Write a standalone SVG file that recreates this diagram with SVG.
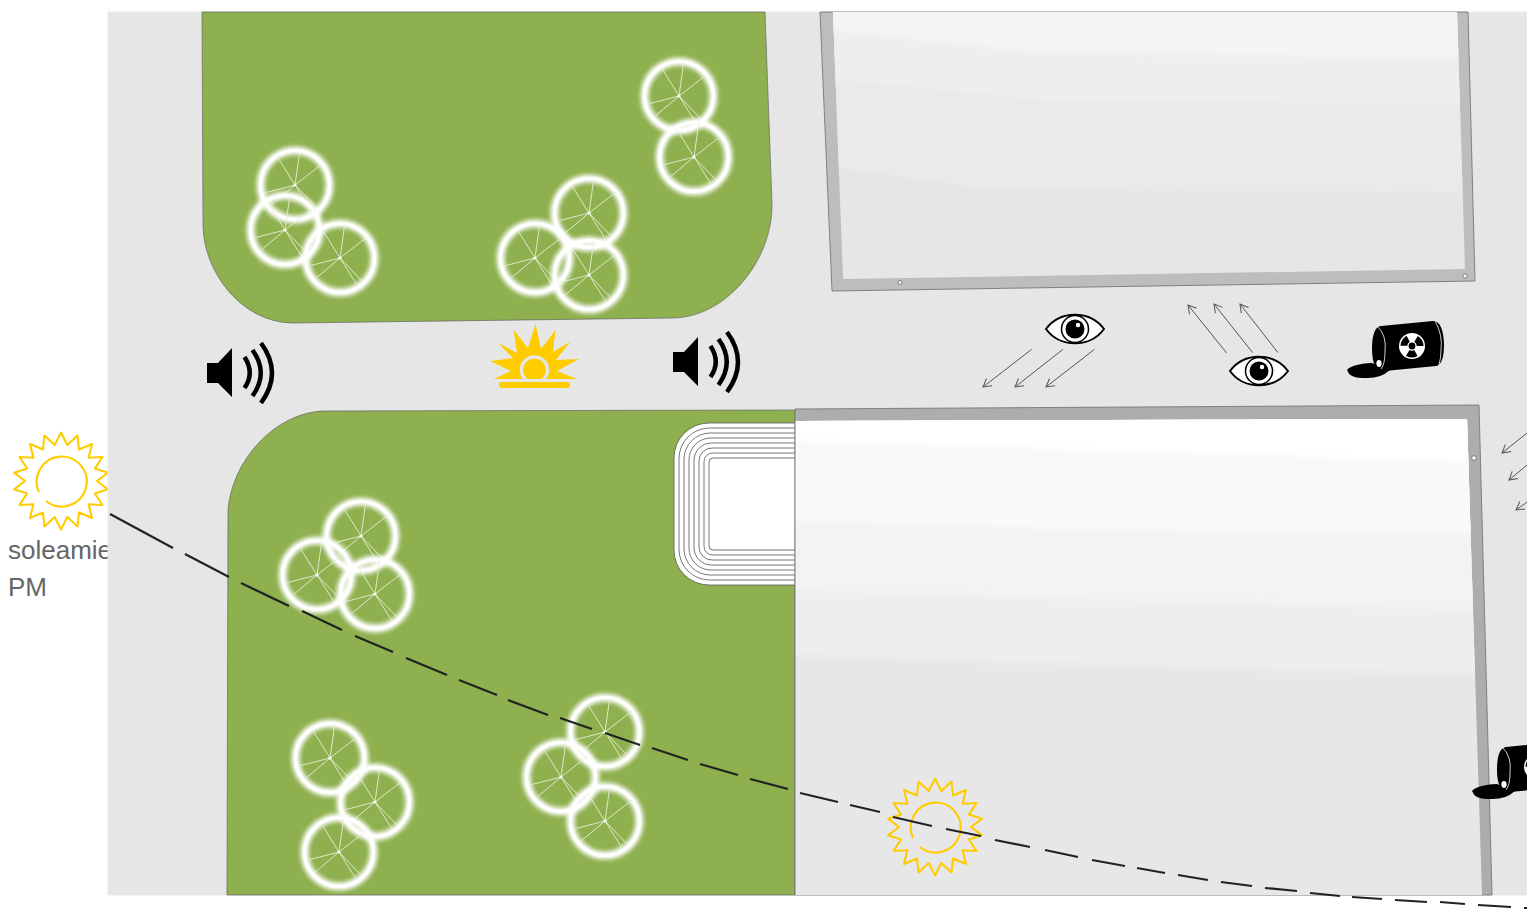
<svg xmlns="http://www.w3.org/2000/svg" xmlns:xlink="http://www.w3.org/1999/xlink" width="1527" height="909" viewBox="0 0 1527 909">
<style>
.lbl{font-family:"Liberation Sans",Arial,sans-serif;font-size:26px;fill:#666}
.green{fill:#8eb04e;stroke:#666;stroke-width:.7}
.frame{stroke:#777;stroke-width:.9}
.dot{fill:#fff;stroke:#777;stroke-width:1}
.spoke{stroke:#e6eed6;stroke-width:.9;fill:none}
.rim{fill:none;stroke:#fff;stroke-width:3}
.glow{fill:none;stroke:#fff;stroke-width:8;filter:url(#blur)}
.ray{fill:none;stroke:#ffcc00;stroke-width:2.100;stroke-linejoin:round}
.trk{fill:#fff;stroke:#666;stroke-width:.9}
.arrow{fill:none;stroke:#555;stroke-width:1;marker-end:url(#head)}
.dash{fill:none;stroke:#222;stroke-width:2.200}
.wave{fill:none;stroke:#000;stroke-width:4.500}
.soft{filter:url(#soft)}
</style>
<defs>
<filter id="blur" x="-30%" y="-30%" width="160%" height="160%"><feGaussianBlur stdDeviation="2.300"/></filter>
<filter id="soft" x="-5%" y="-5%" width="110%" height="110%"><feGaussianBlur stdDeviation="2.500"/></filter>
<clipPath id="clipN"><path d="M833,12L843,279L1465,269L1457,12Z"/></clipPath>
<clipPath id="clipS"><path d="M795,421L1467,419L1482,895H795Z"/></clipPath>
<marker id="head" markerUnits="userSpaceOnUse" markerWidth="12" markerHeight="12" viewBox="-10 -6 12 12" refX="0" refY="0" orient="auto"><path d="M-8,-4.600L0,0L-8,4.600" fill="none" stroke="#555" stroke-width="1"/></marker>
<g id="tree">
<circle class="glow" r="34.500"/>
<circle class="rim" r="34.500"/>
<path class="spoke" d="M0,0L-17.500,-28M0,0L4.800,-34M0,0L27,-21M0,0L-31,8M0,0L-25,21M0,0L17,27M0,0L22,23"/>
<circle r="1.600" fill="#fff"/>
</g>
<g id="sun">
<path class="ray" d="M0,-48.500L6.300,-36L16.500,-45.500L18,-31.500L31,-37L27.600,-23.300L41.500,-24L33.800,-12.400L47,-8.300L36,0L47,8.300L33.800,12.400L41.500,24L27.600,23.300L31,37L18,31.500L16.500,45.500L6.300,36L0,48.500L-6.300,36L-16.500,45.500L-18,31.500L-31,37L-27.600,23.300L-41.500,24L-33.800,12.400L-47,8.300L-36,0L-47,-8.300L-33.800,-12.400L-41.500,-24L-27.600,-23.300L-31,-37L-18,-31.500L-16.500,-45.500L-6.300,-36Z"/>
<path class="ray" d="M-15,20A25,25 0 1 0 -22,11"/>
</g>
<g id="eye">
<path d="M-29,0C-15,-19 15,-19 29,0C15,19 -15,19 -29,0Z" fill="#fff" stroke="#000" stroke-width="2"/>
<circle r="13.500" fill="#fff" stroke="#000" stroke-width="1.500"/>
<circle r="9.500" fill="#000"/>
<circle cx="3" cy="-4" r="2.200" fill="#fff"/>
</g>
<g id="speaker">
<path d="M207,363H218L232,348V397L218,383H207Z" fill="#000"/>
<path class="wave" d="M244.500,357Q255,373 244.500,388"/>
<path class="wave" d="M252.500,350Q269,373 252.500,396"/>
<path class="wave" d="M261,343Q283,373 261,403"/>
</g>
<g id="barrel">
<path d="M1381,326L1433,321Q1443,321 1444,344Q1444,365 1436,366L1385,371Q1372,372 1372,349Q1372,327 1381,326Z" fill="#000"/>
<path d="M1347,370Q1352,364 1372,363L1390,370Q1380,379 1365,378Q1350,379 1347,370Z" fill="#000"/>
<path d="M1377,326Q1387,335 1385,352Q1385,364 1381,369" fill="none" stroke="#fff" stroke-width=".8"/>
<path d="M1435,321Q1443,335 1441,350Q1441,358 1439,365" fill="none" stroke="#fff" stroke-width=".8"/>
<ellipse cx="1379" cy="363.500" rx="2.600" ry="3.400" fill="#fff"/>
<circle cx="1412" cy="346" r="13" fill="#fff"/>
<circle cx="1412" cy="346" r="8" fill="none" stroke="#000" stroke-width="7" stroke-dasharray="8.380 8.380" transform="rotate(-60 1412 346)"/>
<circle cx="1412" cy="346" r="4.500" fill="#fff"/>
<circle cx="1412" cy="346" r="3.400" fill="#000"/>
</g>
</defs>

<g id="label-sun">
<use href="#sun" x="61" y="481"/>
<text class="lbl" x="8" y="559">soleamie</text>
<text class="lbl" x="8" y="596">PM</text>
</g>

<g id="ground"><rect x="108" y="12" width="1419" height="883" fill="#e6e6e6" stroke="#e9e9e9" stroke-width="1"/></g>

<g id="park-north"><path class="green" d="M202,12H765L772,205C772,262 725,318 672,318L292,323C240,322 203,270 203,225Z"/></g>
<g id="park-south"><path class="green" d="M323,411L795,410V895H227L228,510C232,460 275,413 323,411Z"/></g>

<g id="track">
<rect class="trk" x="674" y="423" width="160" height="162" rx="35"/>
<rect class="trk" x="679" y="428" width="160" height="152" rx="30.600"/>
<rect class="trk" x="684" y="433" width="160" height="142" rx="26.200"/>
<rect class="trk" x="689" y="438" width="160" height="132" rx="21.800"/>
<rect class="trk" x="694" y="443" width="160" height="122" rx="17.400"/>
<rect class="trk" x="699" y="448" width="160" height="112" rx="13"/>
<rect class="trk" x="704" y="453" width="160" height="102" rx="8.600"/>
<rect class="trk" x="709" y="458" width="160" height="92" rx="4"/>
</g>

<g id="building-north">
<path class="frame" fill="#bdbdbd" d="M820,12L832,291L1475,281L1468,12Z"/>
<path fill="#e6e6e6" d="M833,12L843,279L1465,269L1457,12Z"/>
<g clip-path="url(#clipN)">
<path class="soft" fill="#eaeaea" d="M820,0L830,167L1000,190L1470,192V0Z"/>
<path class="soft" fill="#eeeeee" d="M820,0L825,78L1040,100L1470,105V0Z"/>
<path class="soft" fill="#f4f4f4" d="M820,0L825,30L1040,53L1470,58V0Z"/>
</g>
<circle class="dot" cx="900" cy="282.500" r="1.900"/>
<circle class="dot" cx="1465" cy="276" r="2.200"/>
</g>

<g id="building-south">
<path class="frame" fill="#adadad" d="M795,409L1479,405L1492,895H795Z"/>
<path fill="#e7e7e7" d="M795,421L1467,419L1482,895H795Z"/>
<g clip-path="url(#clipS)">
<path class="soft" fill="#eeeeee" d="M780,400H1490L1490,675L1100,665L780,655Z"/>
<path class="soft" fill="#f3f3f3" d="M780,400H1490L1490,610L1100,600L780,590Z"/>
<path class="soft" fill="#f9f9f9" d="M780,400H1490L1490,535L1100,530L780,520Z"/>
<path class="soft" fill="#fff" d="M780,400H1490L1490,462L1100,450L780,440Z"/>
</g>
<path fill="none" stroke="#777" stroke-width=".9" d="M795,421V895"/>
<circle class="dot" cx="1474" cy="458" r="2.300"/>
</g>

<g id="trees-a"><use href="#tree" x="295" y="185"/><use href="#tree" x="285" y="230"/><use href="#tree" x="340" y="258"/></g>
<g id="trees-b"><use href="#tree" x="589" y="213"/><use href="#tree" x="535" y="258"/><use href="#tree" x="589" y="275"/></g>
<g id="trees-c"><use href="#tree" x="679" y="96"/><use href="#tree" x="694" y="157"/></g>
<g id="trees-d"><use href="#tree" x="361" y="536"/><use href="#tree" x="317" y="575"/><use href="#tree" x="375" y="594"/></g>
<g id="trees-e"><use href="#tree" x="330" y="758"/><use href="#tree" x="375" y="802"/><use href="#tree" x="339" y="852"/></g>
<g id="trees-f"><use href="#tree" x="605" y="732"/><use href="#tree" x="561" y="777"/><use href="#tree" x="605" y="821"/></g>

<g id="speaker-west"><use href="#speaker"/></g>
<g id="speaker-east"><use href="#speaker" x="466" y="-11"/></g>

<g id="sunrise">
<path fill="#ffcc00" d="M493.600,379L511,371L490,361L513,358L498,343L517,353L513.600,330L528,348L535.500,324L541,349L555.500,330L553,352L570,342L556,360L579,359L557,371L577,379Z"/>
<circle cx="534.500" cy="370" r="15.500" fill="#ffcc00"/>
<circle cx="534.500" cy="370" r="13" fill="none" stroke="#e6e6e6" stroke-width="3.500"/>
<circle cx="534.500" cy="370" r="11" fill="#ffcc00"/>
<rect x="505" y="379" width="60" height="3" fill="#e6e6e6"/>
<rect x="499" y="382" width="71" height="6" rx="3" fill="#ffcc00"/>
</g>

<g id="eye-west"><use href="#eye" x="1075" y="329"/></g>
<g id="eye-east"><use href="#eye" x="1259" y="371"/></g>
<g id="barrel-north"><use href="#barrel"/></g>
<g id="barrel-south"><use href="#barrel" x="125" y="421"/></g>
<g id="sun-south"><use href="#sun" x="935" y="827"/></g>

<g id="connectors">
<path class="arrow" d="M1031.700,349.300L983,387"/>
<path class="arrow" d="M1063,349.300L1015,387"/>
<path class="arrow" d="M1094.500,349.300L1046,387"/>
<path class="arrow" d="M1226.700,353L1188,305"/>
<path class="arrow" d="M1252.700,352.700L1214,304"/>
<path class="arrow" d="M1278,352.700L1240,304"/>
<path class="arrow" d="M1527,433L1502,453"/>
<path class="arrow" d="M1527,465L1509,480"/>
<path class="arrow" d="M1527,502L1516,510"/>
<path class="dash" d="M110,514L173,548M185,554L229,577M241,583L289,606M302,611L342,630M355,636L393,652M406,658L447,675M459,680L497,695M508,700L548,715M560,718L592,729M605,733L640,745M652,748L688,760M700,764L738,775M750,779L788,789M800,793L838,802M850,805L880,812M893,817L932,826M946,829L981,836M995,840L1030,847M1045,850L1078,857M1092,860L1125,866M1137,868L1165,873M1178,875L1208,880M1221,882L1252,886M1265,888L1297,891M1310,893L1340,896M1352,897L1382,899M1395,900L1427,902M1440,902L1465,904M1478,905L1511,907M1524,908L1527,908"/>
</g>
</svg>
